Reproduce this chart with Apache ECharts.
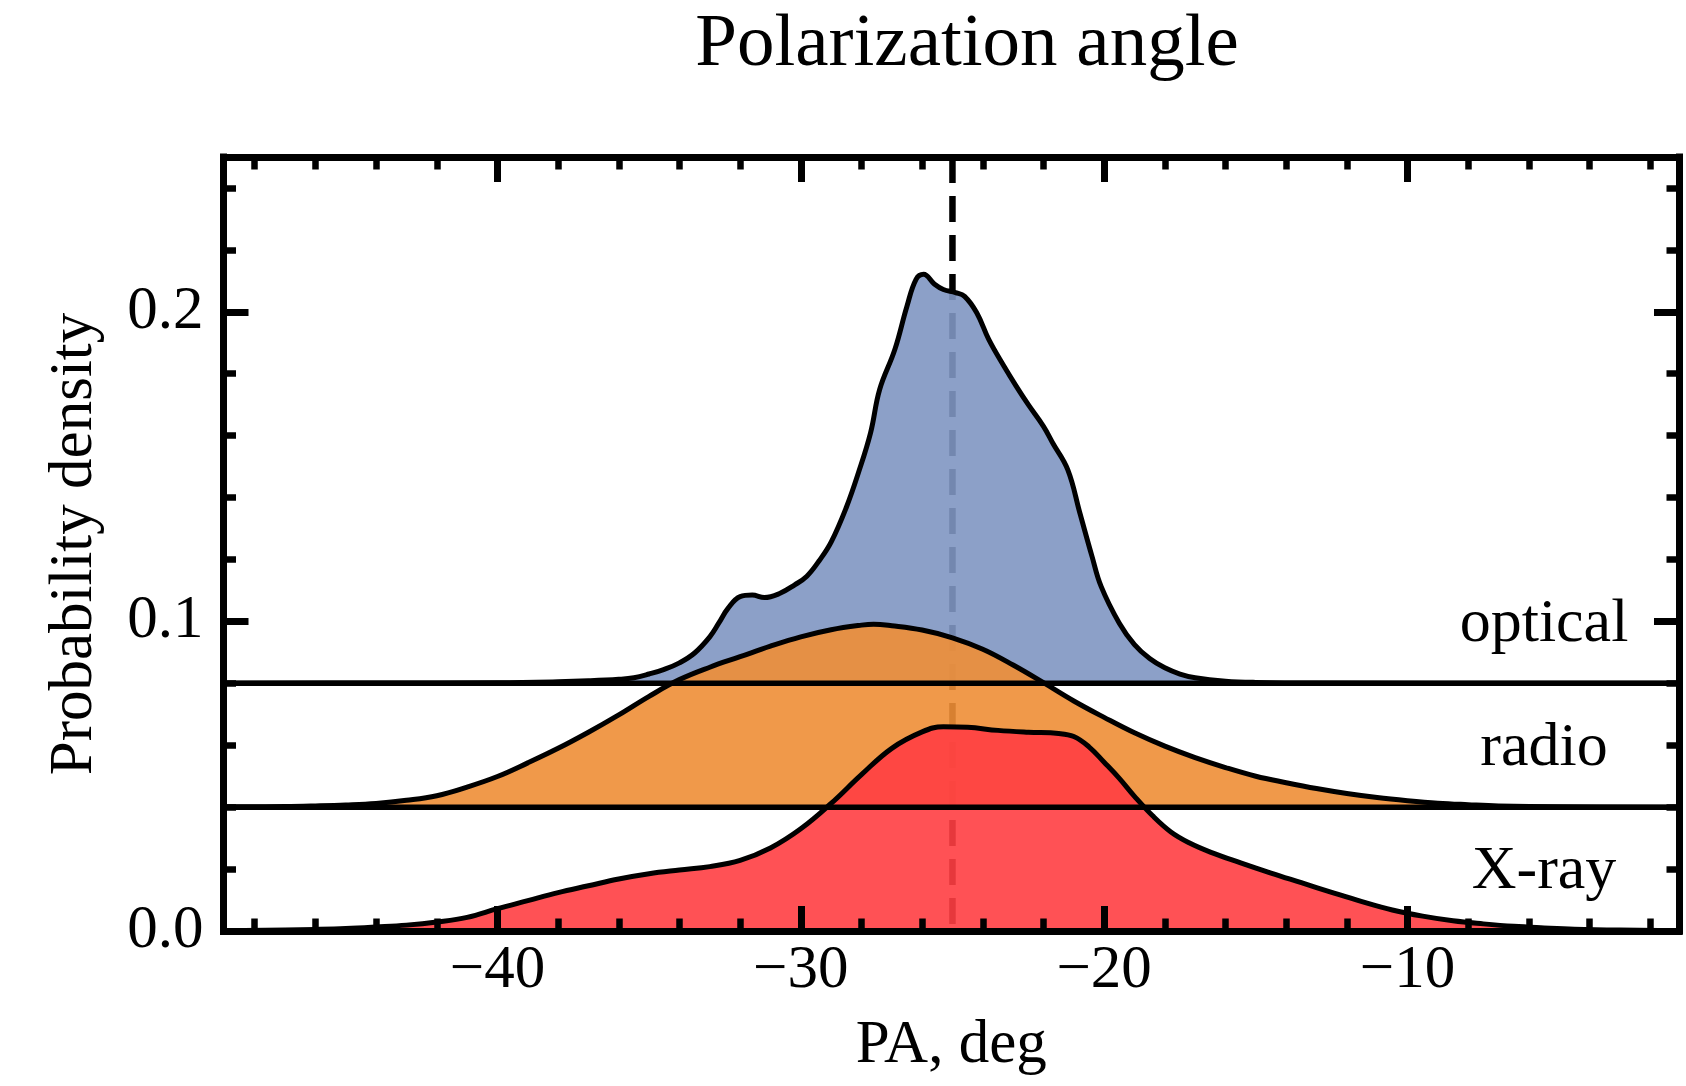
<!DOCTYPE html>
<html>
<head>
<meta charset="utf-8">
<script src="https://cdn.jsdelivr.net/npm/echarts@6/dist/echarts.min.js"></script>
<style>
  html, body { margin: 0; padding: 0; background: #fff; }
  #chart { width: 1686px; height: 1086px; }
</style>
</head>
<body>
<div id="chart"></div>
<script>
// ---- data ----
const names = ['optical', 'radio', 'X-ray'];
const offsets = [0.08, 0.04, 0.0];
const refAngle = -25.0;

const opticalX = [-49.03, -44, -40, -38, -37, -36, -35.5, -35, -34.5, -34, -33.5, -33, -32.7, -32.4, -32.0, -31.6, -31.2, -30.7, -30.2, -29.8, -29.4, -29.0, -28.5, -28.1, -27.7, -27.4, -26.9, -26.5, -26.2, -25.95, -25.6, -25.3, -24.9, -24.6, -24.2, -23.8, -23.3, -22.9, -22.5, -22.0, -21.7, -21.2, -20.8, -20.4, -20.1, -19.5, -19.0, -18.5, -18.0, -17.5, -17.0, -16.0, -15.0, -13.0, -1.05];
const opticalY = [0, 0.0001, 0.0002, 0.0005, 0.0008, 0.0013, 0.0018, 0.0030, 0.0045, 0.0066, 0.0098, 0.0150, 0.0195, 0.0242, 0.0280, 0.0285, 0.0277, 0.0290, 0.0318, 0.0346, 0.0395, 0.0456, 0.0568, 0.0680, 0.0809, 0.0949, 0.1078, 0.1218, 0.1305, 0.1321, 0.1290, 0.1272, 0.1262, 0.1250, 0.1197, 0.1110, 0.1024, 0.0960, 0.0900, 0.0830, 0.0777, 0.0690, 0.0550, 0.0410, 0.0313, 0.0194, 0.0125, 0.0080, 0.0050, 0.0030, 0.0018, 0.0007, 0.0003, 0.0001, 0];

const radioX = [-49.03, -47, -46, -45, -44, -43, -42, -41, -40, -39, -38, -37, -36, -35, -34, -33, -32, -31, -30, -29, -28, -27.6, -27, -26, -25, -24, -23, -22, -21, -20, -19, -18, -17, -16, -15, -14, -13, -12, -11, -10, -9, -8, -7, -5, -1.05];
const radioY = [0.0001, 0.0002, 0.0004, 0.0007, 0.0012, 0.0022, 0.0037, 0.0065, 0.0099, 0.0143, 0.0190, 0.0242, 0.0298, 0.0358, 0.0412, 0.0452, 0.0486, 0.0520, 0.0550, 0.0573, 0.0588, 0.0591, 0.0586, 0.0572, 0.0547, 0.0510, 0.0459, 0.0402, 0.0343, 0.0290, 0.0240, 0.0197, 0.0160, 0.0128, 0.0100, 0.0079, 0.0060, 0.0044, 0.0031, 0.0021, 0.0013, 0.0008, 0.0004, 0.0001, 0];

const xrayX = [-49.03, -47, -46, -45, -44, -43, -42, -41, -40, -39, -38, -37, -36, -35, -34, -33, -32, -31, -30, -29, -28, -27, -26, -25.3, -24.5, -23.5, -22.5, -21.5, -21.0, -20.5, -20.0, -19.5, -19.0, -18.4, -17.8, -17.2, -16.5, -15.5, -14.5, -13.5, -12.5, -11.5, -10.5, -9.5, -8.5, -7.5, -6.5, -5.5, -4.5, -3.0, -1.05];
const xrayY = [0.0001, 0.0003, 0.0005, 0.0008, 0.0013, 0.0019, 0.0029, 0.0044, 0.0072, 0.0098, 0.0124, 0.0146, 0.0168, 0.0185, 0.0197, 0.0208, 0.0228, 0.0268, 0.0330, 0.0412, 0.0505, 0.0590, 0.0643, 0.0660, 0.0658, 0.0648, 0.0642, 0.0638, 0.0628, 0.0595, 0.0545, 0.0493, 0.0435, 0.0372, 0.0320, 0.0285, 0.0255, 0.0220, 0.0187, 0.0156, 0.0125, 0.0095, 0.0068, 0.0048, 0.0033, 0.0023, 0.0015, 0.0010, 0.0006, 0.0003, 0.0001];

const xTickValues = [-40, -30, -20, -10];
const yTickValues = [0.0, 0.1, 0.2];

// ---- styling / layout ----
const FONT = 'Liberation Serif';
const X_MIN = -49.03, X_MAX = -1.05, Y_MIN = 0, Y_MAX = 0.25;
const fillColors = ['rgb(128,150,194)', 'rgb(238,142,54)', 'rgb(255,62,66)'];
const labelX = -5.5, labelLift = 0.019;

const xs = [opticalX, radioX, xrayX];
const ys = [opticalY, radioY, xrayY];

function minusFmt(v) {
  return v < 0 ? '\u2212' + Math.abs(v) : String(v);
}

const axisLineStyle = { color: '#000', width: 7, cap: 'square' };
function makeX(pos, showLabels) {
  return {
    type: 'value', position: pos, min: X_MIN, max: X_MAX, splitNumber: 5, z: 10,
    axisLine: { show: true, onZero: false, lineStyle: axisLineStyle },
    axisTick: { show: true, inside: true, length: 25, lineStyle: { color: '#000', width: 7 } },
    minorTick: { show: true, splitNumber: 5, length: 12.5, lineStyle: { color: '#000', width: 6.5 } },
    splitLine: { show: false }, minorSplitLine: { show: false },
    axisLabel: {
      show: showLabels, margin: 9, color: '#000', fontFamily: FONT, fontSize: 61,
      showMinLabel: false, showMaxLabel: false,
      formatter: v => (xTickValues.indexOf(Math.round(v)) >= 0 && Math.abs(v - Math.round(v)) < 1e-6) ? minusFmt(Math.round(v)) : ''
    },
    name: showLabels ? 'PA, deg' : '', nameLocation: 'middle', nameGap: 84,
    nameTextStyle: { color: '#000', fontFamily: FONT, fontSize: 61 }
  };
}
function makeY(pos, showLabels) {
  return {
    type: 'value', position: pos, min: Y_MIN, max: Y_MAX, interval: 0.1, z: 10,
    axisLine: { show: true, onZero: false, lineStyle: axisLineStyle },
    axisTick: { show: true, inside: true, length: 25, lineStyle: { color: '#000', width: 7 } },
    minorTick: { show: true, splitNumber: 5, length: 12.5, lineStyle: { color: '#000', width: 6.5 } },
    splitLine: { show: false }, minorSplitLine: { show: false },
    axisLabel: {
      show: showLabels, margin: 20, color: '#000', fontFamily: FONT, fontSize: 61,
      showMaxLabel: false,
      formatter: v => {
        const hit = yTickValues.find(t => Math.abs(t - v) < 1e-9);
        return hit === undefined ? '' : hit.toFixed(1);
      }
    },
    name: showLabels ? 'Probability density' : '', nameLocation: 'middle', nameGap: 118, nameRotate: 90,
    nameTextStyle: { color: '#000', fontFamily: FONT, fontSize: 61 }
  };
}

const series = [];
// reference dashed line (drawn first, behind fills)
series.push({
  type: 'line', xAxisIndex: 0, yAxisIndex: 0, silent: true, symbol: 'none', z: 1,
  data: [[refAngle, Y_MAX], [refAngle, Y_MIN]],
  lineStyle: { color: '#000', width: 6.5, type: [26, 13] }
});
names.forEach((n, i) => {
  const data = xs[i].map((x, k) => [x, offsets[i] + ys[i][k]]);
  series.push({
    type: 'line', name: n, xAxisIndex: 0, yAxisIndex: 0, silent: true, symbol: 'none', z: 2,
    smooth: 0.4, clip: true,
    data: data,
    lineStyle: { color: '#000', width: 5, join: 'round' },
    areaStyle: { color: fillColors[i], opacity: 0.9, origin: offsets[i] }
  });
  series.push({
    type: 'line', xAxisIndex: 0, yAxisIndex: 0, silent: true, symbol: 'none', z: 2,
    data: [[X_MIN, offsets[i]], [X_MAX, offsets[i]]],
    lineStyle: { color: '#000', width: 5.5 }
  });
});
// row labels
series.push({
  type: 'scatter', xAxisIndex: 0, yAxisIndex: 0, silent: true, z: 5, symbolSize: 0,
  itemStyle: { color: '#000', opacity: 1 },
  data: names.map((n, i) => ({ name: n, value: [labelX, offsets[i] + labelLift] })),
  label: {
    show: true, position: [0, 0], align: 'center', verticalAlign: 'middle',
    formatter: '{b}', color: '#000', opacity: 1, fontFamily: FONT, fontSize: 62
  },
  emphasis: { disabled: true }
});

const chart = echarts.init(document.getElementById('chart'), null, { renderer: 'canvas' });
chart.setOption({
  animation: false,
  backgroundColor: '#fff',
  title: {
    text: 'Polarization angle', left: 967, top: 8, textAlign: 'center', padding: 0,
    textStyle: { color: '#000', fontFamily: FONT, fontSize: 75, fontWeight: 'normal' }
  },
  grid: { left: 223.5, right: 7, top: 157, bottom: 155, containLabel: false, outerBoundsMode: 'none' },
  xAxis: [makeX('bottom', true), makeX('top', false)],
  yAxis: [makeY('left', true), makeY('right', false)],
  series: series
});
</script>
</body>
</html>
